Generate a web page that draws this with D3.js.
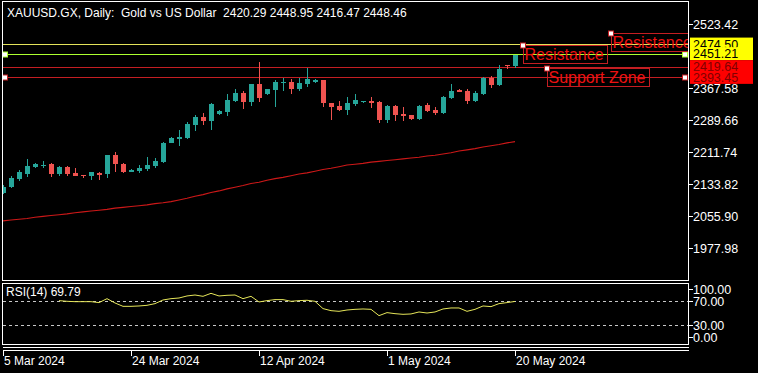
<!DOCTYPE html>
<html>
<head>
<meta charset="utf-8">
<script src="https://cdn.jsdelivr.net/npm/d3@7"></script>
<style>
body { margin: 0; background: #000; }
svg { display: block; font-family: "Liberation Sans", Arial, sans-serif; }
</style>
</head>
<body>
<svg width="758" height="373"></svg>
<script>

// daily bars, index 0 = 5 Mar 2024
let opens  = [2113.1, 2127.2, 2146.0, 2157.5, 2176.0, 2178.9, 2183.3, 2157.5, 2175.2, 2159.9,
              2155.2, 2154.0, 2160.6, 2157.5, 2204.4, 2183.3, 2163.8, 2165.5, 2169.6, 2177.7,
              2187.4, 2234.4, 2244.1, 2245.8, 2277.5, 2297.7, 2287.2, 2304.3, 2309.9, 2335.9,
              2356.1, 2334.2, 2376.6, 2352.9, 2362.7, 2380.5, 2381.5, 2365.1, 2376.6, 2381.5,
              2387.1, 2331.8, 2323.8, 2314.0, 2328.6, 2332.8, 2335.9, 2334.2, 2289.7, 2323.0,
              2304.3, 2301.8, 2292.1, 2326.9, 2314.7, 2306.7, 2343.2, 2363.4, 2361.0, 2335.2,
              2352.9, 2391.9, 2375.6, 2422.6, 2420.29]
let highs  = [2130.2, 2154.0, 2167.9, 2194.7, 2184.9, 2190.6, 2185.7, 2178.4, 2178.4, 2172.0,
              2156.2, 2162.3, 2163.8, 2205.0, 2212.5, 2185.7, 2169.6, 2180.1, 2199.6, 2196.4,
              2236.8, 2248.3, 2265.3, 2284.8, 2301.8, 2307.4, 2331.8, 2314.0, 2353.0, 2365.9,
              2360.3, 2378.5, 2431.6, 2365.2, 2387.1, 2391.2, 2389.5, 2391.2, 2415.6, 2388.3,
              2387.5, 2332.0, 2336.6, 2344.9, 2352.2, 2336.8, 2344.9, 2335.9, 2327.4, 2326.9,
              2320.6, 2302.5, 2327.4, 2331.0, 2320.6, 2347.4, 2377.3, 2364.2, 2365.1, 2361.0,
              2393.6, 2396.0, 2422.9, 2424.3, 2448.95]
let lows   = [2109.5, 2123.4, 2141.1, 2150.9, 2172.8, 2172.0, 2150.1, 2154.0, 2153.3, 2152.6,
              2149.2, 2144.3, 2144.3, 2147.7, 2163.8, 2159.9, 2162.3, 2161.3, 2166.2, 2172.0,
              2185.7, 2232.9, 2226.4, 2242.7, 2263.6, 2278.2, 2265.3, 2302.6, 2299.4, 2334.2,
              2316.4, 2323.8, 2332.8, 2351.7, 2322.1, 2361.0, 2353.7, 2361.0, 2370.7, 2380.9,
              2322.1, 2289.7, 2311.6, 2301.8, 2324.5, 2332.0, 2319.6, 2281.6, 2282.4, 2287.2,
              2287.2, 2289.7, 2289.7, 2309.1, 2302.6, 2304.3, 2342.0, 2357.8, 2329.4, 2333.5,
              2351.2, 2367.6, 2373.2, 2415.0, 2416.47]
let closes = [2127.7, 2149.2, 2163.8, 2177.7, 2182.5, 2180.6, 2157.5, 2175.2, 2158.2, 2154.0,
              2154.5, 2162.3, 2156.5, 2204.4, 2182.5, 2163.8, 2168.6, 2173.5, 2180.1, 2190.6,
              2234.4, 2245.8, 2247.1, 2280.6, 2297.7, 2286.5, 2328.6, 2312.3, 2338.4, 2356.1,
              2333.5, 2377.3, 2342.5, 2364.4, 2381.5, 2382.9, 2365.1, 2379.0, 2389.5, 2387.1,
              2331.8, 2322.1, 2314.0, 2331.8, 2338.4, 2335.9, 2331.8, 2289.7, 2324.5, 2302.6,
              2299.4, 2291.4, 2324.5, 2312.3, 2307.4, 2345.7, 2360.3, 2358.6, 2336.6, 2355.4,
              2391.9, 2375.6, 2413.8, 2420.3, 2448.46]

// moving average (red line)
let maValues = [2044, 2046, 2048, 2050, 2053, 2055, 2057, 2059, 2061, 2064,
                2066, 2068, 2070, 2072, 2075, 2077, 2079, 2081, 2083, 2086,
                2088, 2091, 2095, 2099, 2104, 2108, 2113, 2117, 2122, 2126,
                2130, 2135, 2138, 2143, 2147, 2150, 2154, 2158, 2161, 2165,
                2169, 2172, 2176, 2180, 2182, 2184, 2187, 2189, 2191, 2193,
                2195, 2197, 2199, 2202, 2204, 2207, 2210, 2214, 2217, 2220,
                2224, 2227, 2230, 2234, 2237]

// RSI(14), first value at bar 7
let rsiStart = 7
let rsiValues = [71.1, 70.0, 69.4, 69.4, 69.4, 67.8, 74.4, 67.2, 61.6, 61.6,
                 62.2, 63.3, 66.1, 72.2, 74.4, 75.5, 78.9, 80.5, 78.3, 83.3,
                 78.9, 80.0, 80.5, 74.4, 78.3, 68.9, 71.1, 72.8, 72.8, 70.0,
                 71.1, 71.7, 70.0, 57.8, 54.4, 53.3, 55.5, 56.6, 57.2, 56.6,
                 46.1, 51.1, 49.4, 48.3, 48.9, 52.2, 50.5, 52.2, 57.2, 58.9,
                 58.9, 53.3, 56.6, 62.2, 61.1, 66.1, 67.8, 69.79]

let priceTicks = [2523.42, 2367.58, 2289.66, 2211.74, 2133.82, 2055.90, 1977.98]
let rsiTicks = [100, 70, 30, 0]
let rsiLevels = [70, 30]
let dateTickBars = [0, 16, 32, 48, 64]
let dateTickLabels = ['5 Mar 2024', '24 Mar 2024', '12 Apr 2024', '1 May 2024', '20 May 2024']

let levelPrices = [2474.50, 2451.21, 2419.64, 2393.45]
let noteTexts = ['Resistance', 'Resistance', 'Support Zone']
let noteBars = [76, 65, 68]
let notePrices = [2501.5, 2471.5, 2416.5]

let header = 'XAUUSD.GX, Daily:  Gold vs US Dollar  2420.29 2448.95 2416.47 2448.46'


let svg = d3.select('svg')
svg.append('rect').attr('width', 758).attr('height', 373).attr('fill', '#000')

let x = d3.scaleLinear().domain([0, 64]).range([3, 515])
let y = d3.scaleLinear().domain([1977.98, 2523.42]).range([248, 24])
let yr = d3.scaleLinear().domain([0, 100]).range([343.3, 283.3])

let bull = '#26a69a', bear = '#ef5350'

/* panel clip */
svg.append('clipPath').attr('id', 'plot')
  .append('rect').attr('x', 3).attr('y', 2).attr('width', 685).attr('height', 278)

let plot = svg.append('g').attr('clip-path', 'url(#plot)')

/* levels */
let levelColor = ['#e3e35a', '#adff2f', '#c41e22', '#c41e22']
plot.selectAll('line.level')
  .data(levelPrices)
  .enter().append('line')
  .attr('class', 'level')
  .attr('x1', 3).attr('x2', 688)
  .attr('y1', d => Math.round(y(d)) + 0.5).attr('y2', d => Math.round(y(d)) + 0.5)
  .attr('stroke', (d, i) => levelColor[i])
  .attr('stroke-width', 1.2)

// selected lines show end markers
;[1, 3].forEach(k => {
  ;[5, 685].forEach(px => {
    plot.append('rect')
      .attr('x', px - 2.5).attr('y', Math.round(y(levelPrices[k])) - 2)
      .attr('width', 5).attr('height', 5)
      .attr('fill', '#fff').attr('stroke', levelColor[k]).attr('stroke-width', 1)
  })
})

/* moving average */
plot.append('path')
  .datum(maValues)
  .attr('fill', 'none')
  .attr('stroke', '#cc1818')
  .attr('stroke-width', 1.1)
  .attr('d', d3.line().x((d, i) => x(i)).y(d => y(d)))

/* candles */
let bars = d3.range(opens.length).map(i => ({i, o: opens[i], h: highs[i], l: lows[i], c: closes[i]}))
let candles = plot.selectAll('g.candle')
  .data(bars)
  .enter().append('g')
  .attr('class', 'candle')
  .attr('shape-rendering', 'crispEdges')

candles.append('line')
  .attr('x1', d => Math.round(x(d.i)) + 0.5).attr('x2', d => Math.round(x(d.i)) + 0.5)
  .attr('y1', d => Math.round(y(d.h))).attr('y2', d => Math.round(y(d.l)))
  .attr('stroke', d => d.c >= d.o ? bull : bear)

candles.append('rect')
  .attr('x', d => Math.round(x(d.i)) - 2)
  .attr('width', 5)
  .attr('y', d => Math.round(y(Math.max(d.o, d.c))))
  .attr('height', d => Math.max(1, Math.round(y(Math.min(d.o, d.c))) - Math.round(y(Math.max(d.o, d.c)))))
  .attr('fill', d => d.c >= d.o ? bull : bear)

/* text notes */
noteTexts.forEach((t, k) => {
  let ax = Math.round(x(noteBars[k])), ay = Math.round(y(notePrices[k]))
  let g = plot.append('g')
  let txt = g.append('text')
    .attr('x', ax + 1.5).attr('y', ay + 15)
    .attr('font-size', 16).attr('fill', '#ee1111')
    .text(t)
  let w = txt.node().getComputedTextLength()
  g.insert('rect', 'text')
    .attr('x', ax + 0.5).attr('y', ay + 0.5)
    .attr('width', Math.round(w) + 5).attr('height', 18)
    .attr('fill', 'none').attr('stroke', '#c41e22').attr('stroke-width', 1)
  g.append('rect')
    .attr('x', ax - 2.5).attr('y', ay - 2)
    .attr('width', 5).attr('height', 5)
    .attr('fill', '#fff').attr('stroke', '#c41e22')
})

/* header */
svg.append('text')
  .attr('x', 7).attr('y', 16.5)
  .attr('font-size', 12).attr('fill', '#fff')
  .style('white-space', 'pre')
  .text(header)

/* frames */
let frames = svg.append('g').attr('fill', 'none').attr('stroke', '#fff').attr('shape-rendering', 'crispEdges')
frames.append('rect').attr('x', 2.5).attr('y', 1.5).attr('width', 686).attr('height', 279)
frames.append('rect').attr('x', 2.5).attr('y', 283.5).attr('width', 686).attr('height', 61)
frames.append('line').attr('x1', 2.5).attr('x2', 688.5).attr('y1', 347.5).attr('y2', 347.5)
frames.append('line').attr('x1', 2.5).attr('x2', 688.5).attr('y1', 350.5).attr('y2', 350.5)

/* price axis */
let pAxis = svg.append('g')
pAxis.selectAll('line')
  .data(priceTicks)
  .enter().append('line')
  .attr('x1', 688).attr('x2', 693)
  .attr('y1', d => Math.round(y(d)) + 0.5).attr('y2', d => Math.round(y(d)) + 0.5)
  .attr('stroke', '#fff').attr('shape-rendering', 'crispEdges')
pAxis.selectAll('text')
  .data(priceTicks)
  .enter().append('text')
  .attr('x', 693).attr('y', d => y(d)).attr('dy', '0.36em')
  .attr('font-size', 12.5).attr('fill', '#fff')
  .text(d => d.toFixed(2))

/* level price tags */
let tagFill = ['#ffff00', '#ffff00', '#ff0000', '#ff0000']
let tagText = ['#000', '#000', '#800000', '#800000']
levelPrices.forEach((p, k) => {
  let cy = y(p)
  svg.append('rect')
    .attr('x', 690).attr('y', cy - 6.5).attr('width', 63).attr('height', 13)
    .attr('fill', tagFill[k])
  svg.append('text')
    .attr('x', 693).attr('y', cy).attr('dy', '0.36em')
    .attr('font-size', 12.5).attr('fill', tagText[k])
    .text(p.toFixed(2))
})

/* RSI */
let rsi = svg.append('g')
rsi.selectAll('line.lvl')
  .data(rsiLevels)
  .enter().append('line')
  .attr('class', 'lvl')
  .attr('x1', 3).attr('x2', 688)
  .attr('y1', d => Math.round(yr(d)) + 0.5).attr('y2', d => Math.round(yr(d)) + 0.5)
  .attr('stroke', '#c8c8c8').attr('stroke-dasharray', '3,3')

rsi.append('path')
  .datum(rsiValues)
  .attr('fill', 'none').attr('stroke', '#e6e65a').attr('stroke-width', 1)
  .attr('d', d3.line().x((d, i) => x(i + rsiStart)).y(d => yr(d)))

rsi.append('text')
  .attr('x', 6).attr('y', 296)
  .attr('font-size', 12).attr('fill', '#fff')
  .text('RSI(14) ' + rsiValues[rsiValues.length - 1].toFixed(2))

let rsiLabelY = d => Math.min(Math.max(yr(d), 289), 337)
rsi.selectAll('line.tk')
  .data(rsiTicks)
  .enter().append('line')
  .attr('class', 'tk')
  .attr('x1', 688).attr('x2', 693)
  .attr('y1', d => Math.round(rsiLabelY(d)) + 0.5).attr('y2', d => Math.round(rsiLabelY(d)) + 0.5)
  .attr('stroke', '#fff').attr('shape-rendering', 'crispEdges')
rsi.selectAll('text.tk')
  .data(rsiTicks)
  .enter().append('text')
  .attr('class', 'tk')
  .attr('x', 693).attr('y', d => rsiLabelY(d)).attr('dy', '0.36em')
  .attr('font-size', 12.5).attr('fill', '#fff')
  .text(d => d.toFixed(2))

/* time axis */
let tAxis = svg.append('g')
tAxis.selectAll('line')
  .data(dateTickBars)
  .enter().append('line')
  .attr('x1', d => Math.round(x(d)) + 0.5).attr('x2', d => Math.round(x(d)) + 0.5)
  .attr('y1', 350).attr('y2', 356)
  .attr('stroke', '#fff').attr('shape-rendering', 'crispEdges')
tAxis.selectAll('text')
  .data(dateTickBars)
  .enter().append('text')
  .attr('x', d => x(d) + 1).attr('y', 365)
  .attr('font-size', 12).attr('fill', '#fff')
  .text((d, i) => dateTickLabels[i])

</script>
</body>
</html>
